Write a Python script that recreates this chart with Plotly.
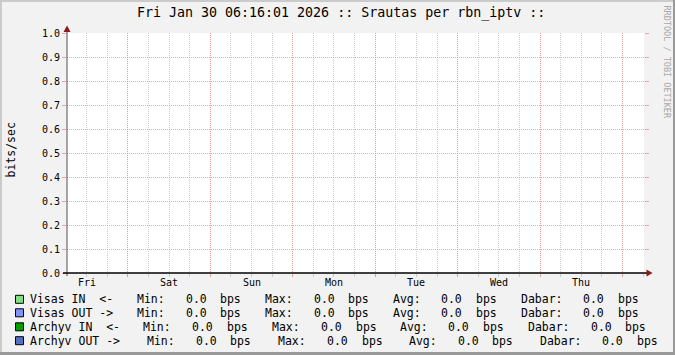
import plotly.graph_objects as go
import pandas as pd

# ---------------- data ----------------
title_text = "Fri Jan 30 06:16:01 2026 :: Srautas per rbn_iptv ::"
y_title = "bits/sec"
watermark = "RRDTOOL / TOBI OETIKER"
t_start = "2026-01-23 06:16:01"
t_end = "2026-01-30 06:16:01"
day_labels = ["Fri", "Sat", "Sun", "Mon", "Tue", "Wed", "Thu"]
y_range = [0.0, 1.0]
y_step = 0.1

series_names = ["Visas IN  <-", "Visas OUT ->", "Archyv IN  <-", "Archyv OUT ->"]
stat_labels = ["Min:", "Max:", "Avg:", "Dabar:"]
min_vals = [0.0, 0.0, 0.0, 0.0]
max_vals = [0.0, 0.0, 0.0, 0.0]
avg_vals = [0.0, 0.0, 0.0, 0.0]
cur_vals = [0.0, 0.0, 0.0, 0.0]
unit = "bps"

# ---------------- styles / layout ----------------
series_colors = ["#80E080", "#8090FF", "#00A000", "#5570C0"]
FONT = "DejaVu Sans Mono"
W, H = 675, 355
L, R, T, B = 67, 644, 33, 273


def px(x):
    return (x - L) / (R - L)


def py(y):
    return (B - y) / (B - T)


fig = go.Figure()
# invisible traces (series have no drawn data in the reference)
for name, col in zip(series_names, series_colors):
    fig.add_trace(go.Scatter(x=[t_start, t_end], y=[None, None], mode="lines",
                             name=name, line=dict(color=col), showlegend=False,
                             hoverinfo="skip"))

start = pd.Timestamp(t_start)
end = pd.Timestamp(t_end)
midnights = pd.date_range(start.ceil("D"), end, freq="D")
noons = pd.date_range(start.floor("D") + pd.Timedelta(hours=12), end, freq="D")

grid_major = "rgba(235,140,140,0.75)"
grid_minor = "rgba(190,190,190,0.75)"

fig.update_layout(
    width=W, height=H, autosize=False,
    margin=dict(l=L, r=W - R, t=T, b=H - B, pad=0),
    paper_bgcolor="#F2F2F2", plot_bgcolor="#FFFFFF",
    showlegend=False,
    xaxis=dict(
        type="date", range=[t_start, t_end],
        tickmode="array", tickvals=[d.strftime("%Y-%m-%d %H:%M:%S") for d in midnights],
        showticklabels=False,
        showgrid=True, gridcolor=grid_major, griddash="1px,1px", gridwidth=1,
        ticks="outside", ticklen=3, tickcolor=grid_major, tickwidth=1,
        minor=dict(tickmode="linear", tick0="2026-01-23 00:00:00", dtick=6 * 3600 * 1000,
                   showgrid=True, gridcolor=grid_minor, griddash="1px,1px", gridwidth=1,
                   ticks="outside", ticklen=3, tickcolor=grid_minor),
        zeroline=False, showline=False, fixedrange=True,
    ),
    yaxis=dict(
        range=y_range, tickmode="linear", tick0=y_range[0], dtick=y_step,
        tickformat=".1f",
        tickfont=dict(family=FONT, size=10, color="#000000"),
        showgrid=True, gridcolor=grid_major, griddash="1px,1px", gridwidth=1,
        ticks="outside", ticklen=4, tickcolor=grid_major, tickwidth=1,
        mirror="ticks", showline=False,
        zeroline=False, fixedrange=True,
    ),
)

shapes = []
ann = []

# frame borders (3D shade)
shapes.append(dict(type="rect", xref="paper", yref="paper", x0=px(0), x1=px(W), y0=py(0), y1=py(2),
                   fillcolor="#CBCBCB", line=dict(width=0), layer="below"))
shapes.append(dict(type="rect", xref="paper", yref="paper", x0=px(0), x1=px(2), y0=py(0), y1=py(H),
                   fillcolor="#CBCBCB", line=dict(width=0), layer="below"))
shapes.append(dict(type="rect", xref="paper", yref="paper", x0=px(W - 2), x1=px(W), y0=py(0), y1=py(H),
                   fillcolor="#999999", line=dict(width=0), layer="below"))
shapes.append(dict(type="rect", xref="paper", yref="paper", x0=px(0), x1=px(W), y0=py(H - 3), y1=py(H),
                   fillcolor="#999999", line=dict(width=0), layer="below"))

# axes lines
shapes.append(dict(type="line", xref="paper", yref="paper", x0=px(L), x1=px(L), y0=py(B + 3), y1=py(30),
                   line=dict(color="#505050", width=1)))
shapes.append(dict(type="line", xref="paper", yref="paper", x0=px(63), x1=px(648), y0=py(B), y1=py(B),
                   line=dict(color="#000000", width=1.5)))
# arrows
shapes.append(dict(type="path", xref="paper", yref="paper",
                   path=f"M {px(L)},{py(25.5)} L {px(L - 3.5)},{py(32)} L {px(L + 3.5)},{py(32)} Z",
                   fillcolor="#8B1A1A", line=dict(width=0)))
shapes.append(dict(type="path", xref="paper", yref="paper",
                   path=f"M {px(652.5)},{py(B)} L {px(646.5)},{py(B - 3.5)} L {px(646.5)},{py(B + 3.5)} Z",
                   fillcolor="#8B1A1A", line=dict(width=0)))

# title
ann.append(dict(text=title_text, x=px(341), y=py(13.5), xref="paper", yref="paper",
                xanchor="center", yanchor="middle", showarrow=False,
                font=dict(family=FONT, size=13.3, color="#000000")))
# y title
ann.append(dict(text=y_title, x=px(10.5), y=py(150), xref="paper", yref="paper",
                xanchor="center", yanchor="middle", showarrow=False, textangle=-90,
                font=dict(family=FONT, size=11.5, color="#000000")))
# watermark
ann.append(dict(text=watermark, x=px(667), y=py(61.5), xref="paper", yref="paper",
                xanchor="center", yanchor="middle", showarrow=False, textangle=90,
                font=dict(family=FONT, size=8.5, color="#A8A8A8")))

# day labels at noon
for d, lab in zip(noons, day_labels):
    ann.append(dict(text=lab, x=d.strftime("%Y-%m-%d %H:%M:%S"), y=py(282), xref="x", yref="paper",
                    xanchor="center", yanchor="middle", showarrow=False,
                    font=dict(family=FONT, size=10, color="#000000")))

# legend rows
row_y = [299.3, 312.8, 326.8, 340.7]
row_cols = [
    [30.7, 137.7, 186.7, 221.0, 265.7, 314.7, 349.0, 394.0, 442.3, 477.3, 521.7, 584.3, 619.3],
    [30.7, 137.7, 186.7, 221.0, 265.7, 314.7, 349.0, 394.0, 442.3, 477.3, 521.7, 584.3, 619.3],
    [30.7, 144.3, 193.3, 228.3, 272.7, 322.4, 356.7, 401.0, 449.3, 484.3, 528.7, 591.7, 626.3],
    [30.7, 147.7, 196.7, 231.0, 279.3, 328.4, 362.7, 410.0, 459.0, 493.3, 540.7, 603.3, 638.3],
]
for i, name in enumerate(series_names):
    yc = row_y[i]
    shapes.append(dict(type="rect", xref="paper", yref="paper",
                       x0=px(15.5), x1=px(23.5), y0=py(yc - 4), y1=py(yc + 4),
                       fillcolor=series_colors[i], line=dict(color="#000000", width=1)))
    vals = [min_vals[i], max_vals[i], avg_vals[i], cur_vals[i]]
    pieces = [name]
    for lab, v in zip(stat_labels, vals):
        pieces += [lab, f"{v:.1f}", unit]
    for xpos, txt in zip(row_cols[i], pieces):
        ann.append(dict(text=txt.replace(" ", "&nbsp;"), x=px(xpos - 1), y=py(yc), xref="paper", yref="paper",
                        xanchor="left", yanchor="middle", showarrow=False,
                        borderpad=0, borderwidth=0,
                        font=dict(family=FONT, size=11.5, color="#000000")))

fig.update_layout(shapes=shapes, annotations=ann)
fig.write_html("out.html", config={"displayModeBar": False})
